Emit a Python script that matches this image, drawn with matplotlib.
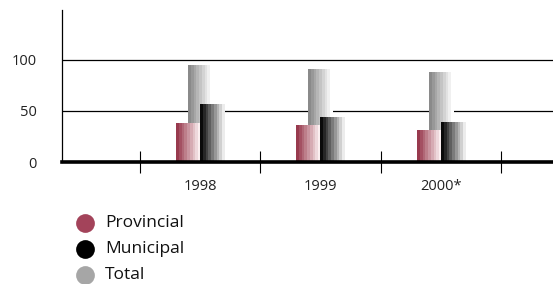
import numpy as np
import matplotlib.pyplot as plt
from matplotlib.colors import LinearSegmentedColormap
from matplotlib.lines import Line2D

plt.rcParams['font.family'] = ['Open Sans', 'DejaVu Sans']

# ── Data ──────────────────────────────────────────────
years = ['1998', '1999', '2000*']
provincial = [38, 36, 31]
municipal = [57, 44, 39]
total = [95, 91, 88]

legend_labels = ['Provincial', 'Municipal', 'Total']
legend_colors = ['#a3435a', '#000000', '#a6a6a6']

# ── Style ─────────────────────────────────────────────
PROV_CMAP = LinearSegmentedColormap.from_list('prov', ['#983a4e', '#fbeff0'])
MUNI_CMAP = LinearSegmentedColormap.from_list('muni', ['#0a0a0a', '#ececec'])
TOT_CMAP = LinearSegmentedColormap.from_list('tot', ['#8a8a8a', '#ffffff'])
N_BANDS = 9


def fill_gradient(ax, bars, cmap, zorder):
    """Paint each bar with a stepped horizontal gradient."""
    grad = np.linspace(0, 1, N_BANDS).reshape(1, -1)
    for b in bars:
        x0, y0, w, h = b.get_x(), b.get_y(), b.get_width(), b.get_height()
        im = ax.imshow(grad, extent=[x0, x0 + w, y0, y0 + h], aspect='auto',
                       cmap=cmap, interpolation='nearest', zorder=zorder)
        im.set_clip_path(b)


fig = plt.figure(figsize=(5.53, 2.84), dpi=100)
ax = fig.add_axes([62 / 553, 122 / 284, 1 - 62 / 553, 152 / 284])

x = np.arange(1, len(years) + 1)
w = 0.2

b_tot = ax.bar(x, total, w, color='none', edgecolor='none', zorder=2)
b_prov = ax.bar(x - w / 2, provincial, w, color='none', edgecolor='none', zorder=3)
b_muni = ax.bar(x + w / 2, municipal, w, color='none', edgecolor='none', zorder=3)

fill_gradient(ax, b_tot, TOT_CMAP, 2)
fill_gradient(ax, b_prov, PROV_CMAP, 3)
fill_gradient(ax, b_muni, MUNI_CMAP, 3)

for yv in [50, 100]:
    ax.axhline(yv, color='black', lw=0.9, zorder=1)

ax.set_xlim(-0.145, 3.93)
ax.set_ylim(0, 149)

ax.set_xticks(x)
ax.set_xticklabels(years)
ax.set_xticks([0.5, 1.5, 2.5, 3.5], minor=True)
ax.tick_params(axis='x', which='major', length=0, pad=12, labelsize=10.5,
               labelcolor='#222222')
ax.tick_params(axis='x', which='minor', direction='inout', length=16,
               width=0.8, color='black')

ax.set_yticks([0, 50, 100])
ax.tick_params(axis='y', length=0, pad=18, labelsize=10.5, labelcolor='#222222')

for s in ['top', 'right']:
    ax.spines[s].set_visible(False)
ax.spines['left'].set_linewidth(0.9)
ax.spines['bottom'].set_linewidth(2.6)
ax.spines['bottom'].set_zorder(5)

# ── Legend ────────────────────────────────────────────
for i, (lab, col) in enumerate(zip(legend_labels, legend_colors)):
    yc = 1 - (223 + 26 * i) / 284
    fig.add_artist(Line2D([85 / 553], [yc], marker='o', markersize=13.5,
                          color=col, markeredgecolor='none',
                          transform=fig.transFigure))
    fig.text(105 / 553, yc, lab, fontsize=12.5, va='center', ha='left',
             color='#111111')

fig.savefig('out.png', dpi=100)
